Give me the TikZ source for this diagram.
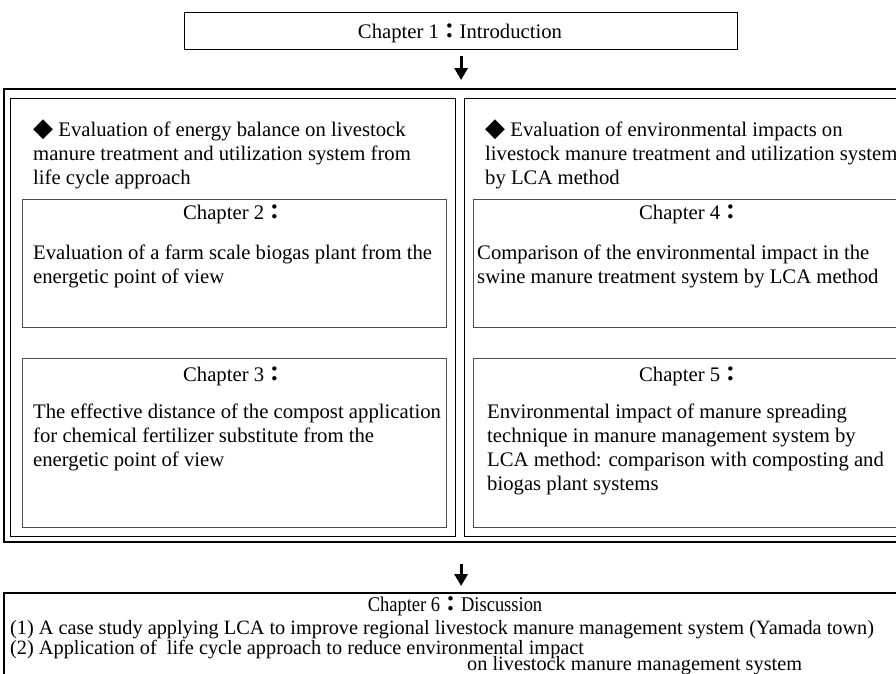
\documentclass[tikz,border=0pt]{standalone}
\usepackage{fontspec}
\setmainfont{Liberation Serif}
\newfontfamily\cjk{Noto Sans CJK TC}
\newfontfamily\sym{DejaVu Sans}
\newfontfamily\cond{Liberation Serif}[FakeStretch=0.88]
\newfontfamily\condb{Liberation Serif}[FakeStretch=1.0]
\usetikzlibrary{arrows.meta}
\newcommand{\fc}{{\cjk\bfseries ：}}
\newcommand{\dia}{{\sym\fontsize{26}{26}\selectfont ◆}}
\begin{document}
\begin{tikzpicture}[x=1pt,y=-1pt,
  frame/.style={draw=black,line width=1.2pt,anchor=north west,inner sep=0pt},
  outerbox/.style={draw=black,line width=2.4pt,anchor=north west,inner sep=0pt},
  chbox/.style={draw=black!70,line width=1pt,anchor=north west,inner sep=0pt},
  txt/.style={anchor=base west,inner sep=0pt,font=\fontsize{20.7}{24}\selectfont},
  ctxt/.style={anchor=base,inner sep=0pt,font=\fontsize{20.7}{24}\selectfont},
  dtxt/.style={anchor=base west,inner sep=0pt,font=\condb\fontsize{20.3}{24}\selectfont},
  arr/.style={-{Triangle[width=13pt,length=12pt]},line width=3pt}]
\useasboundingbox (0,0) rectangle (896,673);
\path[clip] (0,0) rectangle (896,673);
% boxes
\node[frame,minimum width=553pt,minimum height=37pt] (ch1) at (184,12) {};
\node[outerbox,minimum width=920pt,minimum height=453pt] (outer) at (3,88) {};
\node[frame,minimum width=445pt,minimum height=438pt] (lcol) at (10,98) {};
\node[frame,minimum width=450pt,minimum height=438pt] (rcol) at (464,98) {};
\node[chbox,minimum width=424pt,minimum height=128pt] (ch2) at (22,199) {};
\node[chbox,minimum width=424pt,minimum height=169pt] (ch3) at (22,358) {};
\node[chbox,minimum width=440pt,minimum height=128pt] (ch4) at (473,199) {};
\node[chbox,minimum width=440pt,minimum height=169pt] (ch5) at (473,358) {};
\node[draw=black,line width=1.6pt,anchor=north west,inner sep=0pt,minimum width=920pt,minimum height=120pt] (ch6) at (3,592) {};
% arrows
\draw[arr,shorten <=6pt,shorten >=8pt] (ch1.south) -- (ch1.south |- outer.north);
\draw[arr,shorten <=21pt,shorten >=6pt] (ch1.south |- outer.south) -- (ch1.south |- ch6.north);
% texts
\node[ctxt] (t1) at (460,38) {Chapter 1\fc Introduction};
\node[txt] (lh1) at (33,136) {\dia\ Evaluation of energy balance on livestock};
\node[txt] (lh2) at (33,160) {manure treatment and utilization system from};
\node[txt] (lh3) at (33,184) {life cycle approach};
\node[ctxt] (c2h) at (234,219) {Chapter 2\fc};
\node[txt] (c2a) at (33,259) {Evaluation of a farm scale biogas plant from the};
\node[txt] (c2b) at (33,283) {energetic point of view};
\node[ctxt] (c3h) at (234,381) {Chapter 3\fc};
\node[txt] (c3a) at (33,418) {The effective distance of the compost application};
\node[txt] (c3b) at (33,442) {for chemical fertilizer substitute from the};
\node[txt] (c3c) at (33,466) {energetic point of view};
\node[txt] (rh1) at (485,136) {\dia\ Evaluation of environmental impacts on};
\node[txt] (rh2) at (485,160) {livestock manure treatment and utilization system};
\node[txt] (rh3) at (485,184) {by LCA method};
\node[ctxt] (c4h) at (690,219) {Chapter 4\fc};
\node[txt] (c4a) at (477,259) {Comparison of the environmental impact in the};
\node[txt] (c4b) at (477,283) {swine manure treatment system by LCA method};
\node[ctxt] (c5h) at (690,381) {Chapter 5\fc};
\node[txt] (c5a) at (487,418) {Environmental impact of manure spreading};
\node[txt] (c5b) at (487,442) {technique in manure management system by};
\node[txt] (c5c) at (487,466) {LCA method: comparison with composting and};
\node[txt] (c5d) at (487,490) {biogas plant systems};
\node[anchor=base,inner sep=0pt,font=\cond\fontsize{21}{24}\selectfont] (c6h) at (455,611) {Chapter 6\fc Discussion};
\node[dtxt] (c6a) at (10,634) {(1) A case study applying LCA to improve regional livestock manure management system (Yamada town)};
\node[dtxt] (c6b) at (10,654) {(2) Application of\ \ life cycle approach to reduce environmental impact};
\node[dtxt] (c6c) at (467,670) {on livestock manure management system};
\end{tikzpicture}
\end{document}
